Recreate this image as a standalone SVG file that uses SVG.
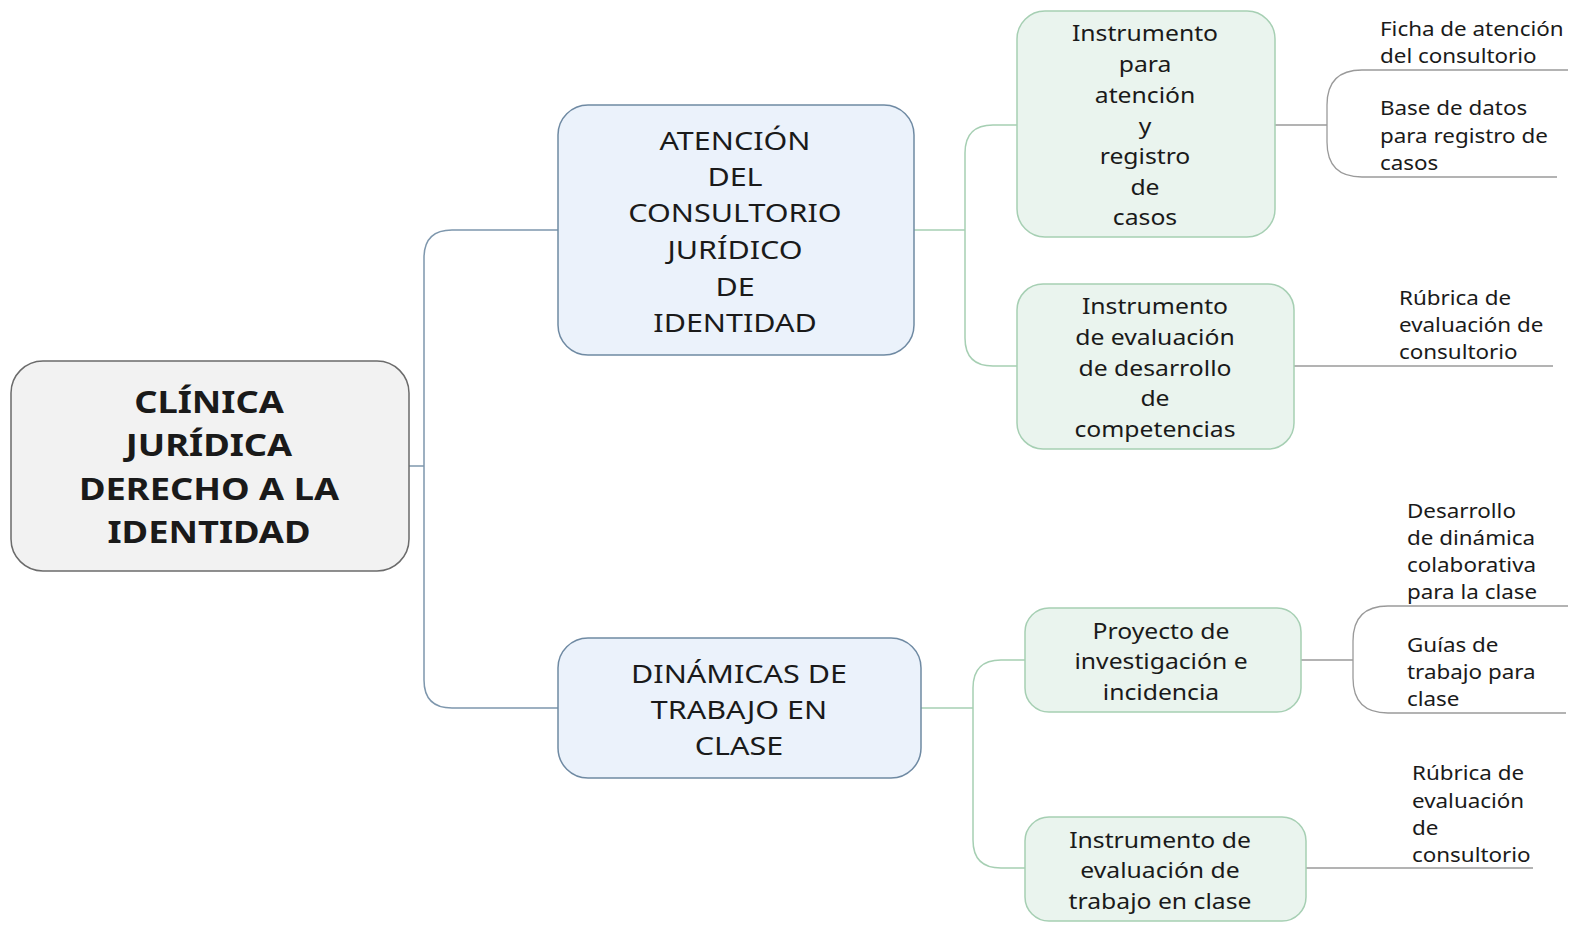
<svg xmlns="http://www.w3.org/2000/svg" width="1583" height="930" viewBox="0 0 1583 930">
<style>
text{font-family:"Noto Sans","Open Sans","DejaVu Sans",sans-serif;fill:#1a1a1a;}
.root rect{fill:#f2f2f2;stroke:#6b6b6b;stroke-width:1.5;}
.root text{font-size:30px;font-weight:bold;text-anchor:middle;dominant-baseline:central;}
.l1 rect{fill:#ebf2fb;stroke:#6f8aa3;stroke-width:1.5;}
.l1 text{font-size:25px;text-anchor:middle;dominant-baseline:central;}
.l2 rect{fill:#eaf4ee;stroke:#a6cfb3;stroke-width:1.5;}
.l2 text{font-size:21.5px;text-anchor:middle;dominant-baseline:central;}
.leaf text{font-size:20px;dominant-baseline:central;}
.c-blue{fill:none;stroke:#7e97ad;stroke-width:1.5;}
.c-green{fill:none;stroke:#a6cfb3;stroke-width:1.5;}
.c-gray{fill:none;stroke:#9a9a9a;stroke-width:1.3;}
</style>
<rect width="1583" height="930" fill="#ffffff"/>
<g id="connectors">
<path class="c-blue" d="M409,466 H424"/>
<path class="c-blue" d="M558,230 H452 Q424,230 424,258 V680 Q424,708 452,708 H558"/>
<path class="c-green" d="M914,230 H965"/>
<path class="c-green" d="M1017,125 H993 Q965,125 965,153 V338 Q965,366 993,366 H1017"/>
<path class="c-gray" d="M1275,125 H1327"/>
<path class="c-gray" d="M1568,70 H1362 Q1327,70 1327,105 V142 Q1327,177 1362,177 H1557"/>
<path class="c-gray" d="M1294,366 H1553"/>
<path class="c-green" d="M921,708 H973"/>
<path class="c-green" d="M1025,660 H1001 Q973,660 973,688 V840 Q973,868 1001,868 H1025"/>
<path class="c-gray" d="M1301,660 H1353"/>
<path class="c-gray" d="M1568,606 H1388 Q1353,606 1353,641 V678 Q1353,713 1388,713 H1566"/>
<path class="c-gray" d="M1306,868 H1533"/>
</g>
<g id="root" class="root">
<rect x="11" y="361" width="398" height="210" rx="32"/>
<g transform="translate(209 0) scale(1.21 1)">
<text x="0" y="401">CLÍNICA</text>
<text x="0" y="444">JURÍDICA</text>
<text x="0" y="488">DERECHO A LA</text>
<text x="0" y="531">IDENTIDAD</text>
</g>
</g>
<g id="atencion" class="l1">
<rect x="558" y="105" width="356" height="250" rx="30"/>
<g transform="translate(735 0) scale(1.22 1)">
<text x="0" y="140">ATENCIÓN</text>
<text x="0" y="176">DEL</text>
<text x="0" y="212">CONSULTORIO</text>
<text x="0" y="249">JURÍDICO</text>
<text x="0" y="286">DE</text>
<text x="0" y="322">IDENTIDAD</text>
</g>
</g>
<g id="dinamicas" class="l1">
<rect x="558" y="638" width="363" height="140" rx="30"/>
<g transform="translate(739 0) scale(1.22 1)">
<text x="0" y="673">DINÁMICAS DE</text>
<text x="0" y="709">TRABAJO EN</text>
<text x="0" y="745">CLASE</text>
</g>
</g>
<g id="instrumento-atencion" class="l2">
<rect x="1017" y="11" width="258" height="226" rx="28"/>
<g transform="translate(1145 0) scale(1.15 1)">
<text x="0" y="33">Instrumento</text>
<text x="0" y="64">para</text>
<text x="0" y="95">atención</text>
<text x="0" y="126">y</text>
<text x="0" y="156">registro</text>
<text x="0" y="187">de</text>
<text x="0" y="217">casos</text>
</g>
</g>
<g id="instrumento-competencias" class="l2">
<rect x="1017" y="284" width="277" height="165" rx="26"/>
<g transform="translate(1155 0) scale(1.15 1)">
<text x="0" y="306">Instrumento</text>
<text x="0" y="337">de evaluación</text>
<text x="0" y="368">de desarrollo</text>
<text x="0" y="398">de</text>
<text x="0" y="429">competencias</text>
</g>
</g>
<g id="proyecto" class="l2">
<rect x="1025" y="608" width="276" height="104" rx="24"/>
<g transform="translate(1161 0) scale(1.15 1)">
<text x="0" y="631">Proyecto de</text>
<text x="0" y="661">investigación e</text>
<text x="0" y="692">incidencia</text>
</g>
</g>
<g id="instrumento-clase" class="l2">
<rect x="1025" y="817" width="281" height="104" rx="24"/>
<g transform="translate(1160 0) scale(1.15 1)">
<text x="0" y="840">Instrumento de</text>
<text x="0" y="870">evaluación de</text>
<text x="0" y="901">trabajo en clase</text>
</g>
</g>
<g id="leaf-ficha" class="leaf">
<g transform="translate(1380 0) scale(1.12 1)">
<text x="0" y="28">Ficha de atención</text>
<text x="0" y="55">del consultorio</text>
</g>
</g>
<g id="leaf-base" class="leaf">
<g transform="translate(1380 0) scale(1.12 1)">
<text x="0" y="107">Base de datos</text>
<text x="0" y="135">para registro de</text>
<text x="0" y="162">casos</text>
</g>
</g>
<g id="leaf-rubrica1" class="leaf">
<g transform="translate(1399 0) scale(1.12 1)">
<text x="0" y="297">Rúbrica de</text>
<text x="0" y="324">evaluación de</text>
<text x="0" y="351">consultorio</text>
</g>
</g>
<g id="leaf-desarrollo" class="leaf">
<g transform="translate(1407 0) scale(1.12 1)">
<text x="0" y="510">Desarrollo</text>
<text x="0" y="537">de dinámica</text>
<text x="0" y="564">colaborativa</text>
<text x="0" y="591">para la clase</text>
</g>
</g>
<g id="leaf-guias" class="leaf">
<g transform="translate(1407 0) scale(1.12 1)">
<text x="0" y="644">Guías de</text>
<text x="0" y="671">trabajo para</text>
<text x="0" y="698">clase</text>
</g>
</g>
<g id="leaf-rubrica2" class="leaf">
<g transform="translate(1412 0) scale(1.12 1)">
<text x="0" y="772">Rúbrica de</text>
<text x="0" y="800">evaluación</text>
<text x="0" y="827">de</text>
<text x="0" y="854">consultorio</text>
</g>
</g>
</svg>
